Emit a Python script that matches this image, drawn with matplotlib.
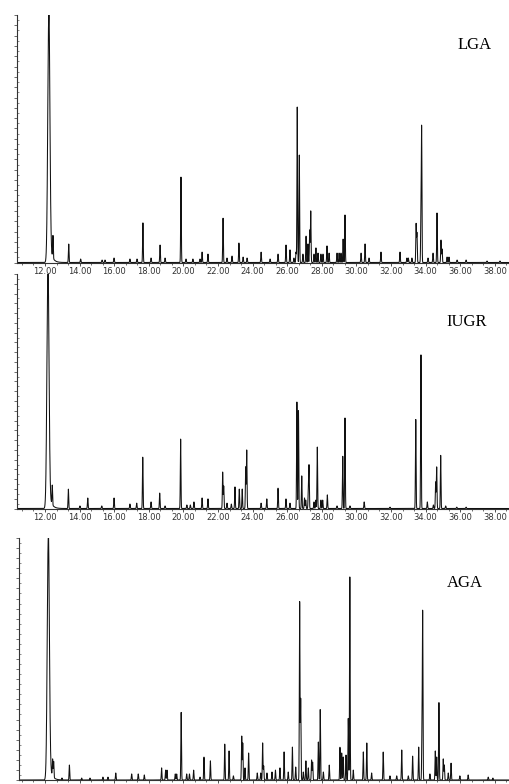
import numpy as np
import matplotlib.pyplot as plt
from matplotlib.ticker import MultipleLocator, FormatStrFormatter

# retention time (min) and peak height (% of panel height)
lga_t = [12.22, 12.46, 13.37, 14.06, 15.30, 15.47, 15.99, 16.91, 17.32, 17.66,
         18.13, 18.65, 18.94, 19.86, 20.15, 20.55, 20.96, 21.08, 21.42, 22.29,
         22.52, 22.81, 23.21, 23.45, 23.68, 24.49, 25.01, 25.47, 25.93, 26.16,
         26.39, 26.51, 26.58, 26.70, 26.91, 27.09, 27.20, 27.30, 27.36, 27.55,
         27.66, 27.78, 27.95, 28.07, 28.30, 28.42, 28.88, 29.00, 29.11, 29.23,
         29.34, 30.27, 30.50, 30.73, 31.42, 32.52, 32.92, 33.00, 33.21, 33.45,
         33.50, 33.73, 33.77, 34.14, 34.43, 34.66, 34.89, 34.95, 35.24, 35.35,
         35.82, 36.34, 37.55, 38.30]
lga_h = [100, 9.1, 7.5, 1.4, 1.0, 1.0, 1.8, 1.4, 1.4, 16.0,
         1.8, 7.1, 1.8, 34.5, 1.4, 1.4, 1.4, 4.2, 3.4, 18.0,
         1.8, 2.6, 7.9, 2.2, 1.8, 4.2, 1.4, 3.4, 7.1, 5.1,
         1.8, 4.2, 62.8, 43.4, 3.4, 10.7, 7.5, 13.1, 20.8, 3.4,
         5.9, 3.8, 3.4, 3.4, 6.7, 3.8, 3.8, 3.8, 3.8, 9.5,
         19.2, 3.8, 7.5, 1.8, 4.2, 4.2, 1.8, 1.8, 1.8, 15.6,
         11.9, 18.0, 53.9, 1.8, 3.8, 20.0, 9.1, 5.5, 2.2, 2.2,
         1.0, 1.0, 0.6, 0.6]

iugr_t = [12.17, 12.42, 13.35, 14.02, 14.47, 15.28, 15.99, 16.91, 17.30, 17.65,
          18.13, 18.63, 18.94, 19.84, 20.20, 20.40, 20.61, 21.08, 21.42, 22.27,
          22.33, 22.52, 22.77, 22.98, 23.23, 23.40, 23.60, 23.66, 24.49, 24.82,
          25.47, 25.93, 26.16, 26.56, 26.65, 26.84, 27.00, 27.07, 27.22, 27.26,
          27.55, 27.65, 27.74, 27.95, 28.05, 28.32, 28.88, 29.21, 29.34, 29.63,
          30.45, 31.94, 33.43, 33.73, 34.10, 34.45, 34.58, 34.64, 34.87, 35.16,
          35.80, 36.34]
iugr_h = [100, 8.3, 8.3, 1.1, 4.5, 1.1, 4.5, 1.9, 2.3, 22.0,
          2.8, 6.6, 1.1, 29.6, 1.5, 1.5, 2.8, 4.5, 4.1, 15.6,
          9.6, 2.3, 1.9, 9.2, 8.3, 8.3, 17.7, 24.9, 2.3, 4.1,
          8.7, 4.1, 2.3, 45.4, 42.0, 13.9, 4.5, 3.6, 7.0, 18.1,
          2.8, 3.6, 26.2, 3.6, 3.6, 5.8, 1.1, 22.4, 38.6, 1.1,
          2.8, 0.6, 38.2, 65.9, 2.8, 1.5, 11.3, 17.7, 22.8, 1.1,
          0.6, 0.6]

aga_t = [12.19, 12.44, 12.50, 12.98, 13.41, 14.12, 14.60, 15.35, 15.64, 16.09,
         17.01, 17.39, 17.74, 18.74, 18.97, 19.05, 19.53, 19.61, 19.87, 20.19,
         20.35, 20.59, 20.96, 21.19, 21.56, 22.39, 22.64, 22.89, 23.37, 23.43,
         23.56, 23.77, 24.27, 24.47, 24.58, 24.64, 24.83, 25.12, 25.32, 25.58,
         25.82, 26.06, 26.30, 26.49, 26.72, 26.78, 26.93, 27.08, 27.22, 27.41,
         27.47, 27.80, 27.91, 28.09, 28.43, 29.05, 29.15, 29.24, 29.40, 29.53,
         29.62, 29.82, 30.40, 30.60, 30.88, 31.55, 31.94, 32.33, 32.62, 33.00,
         33.25, 33.60, 33.79, 33.83, 34.25, 34.56, 34.64, 34.77, 35.02, 35.08,
         35.31, 35.47, 35.98, 36.46, 37.62, 37.89]
aga_h = [100, 7.0, 6.6, 0.8, 6.2, 0.8, 0.8, 1.2, 1.2, 2.9,
         2.5, 2.5, 2.1, 5.0, 4.1, 4.1, 2.5, 2.5, 28.1, 2.5,
         2.5, 4.1, 1.2, 9.5, 7.9, 14.9, 12.0, 1.7, 18.2, 15.3,
         5.0, 11.2, 2.9, 2.9, 15.3, 5.8, 2.9, 3.3, 4.1, 5.0,
         11.6, 3.3, 13.6, 5.4, 73.6, 33.5, 3.3, 7.9, 5.0, 8.3,
         7.4, 15.7, 29.3, 3.3, 6.2, 13.6, 11.2, 9.5, 10.3, 25.6,
         83.9, 4.1, 11.6, 15.3, 2.9, 11.6, 1.7, 1.7, 12.4, 1.7,
         9.9, 13.6, 18.6, 68.6, 2.5, 12.0, 9.5, 32.2, 8.7, 6.2,
         2.9, 7.0, 1.7, 2.1, 1.2, 0.8]

names = ["LGA", "IUGR", "AGA"]
tick_min = [12, 14, 16, 18, 20, 22, 24, 26, 28, 30, 32, 34, 36, 38]

W, H = 510, 784
px_per_min = 17.3


def px_to_min(x):
    return 12 + (x - 45) / px_per_min


def trace(t, times, heights):
    y = np.zeros_like(t)
    for i, (t0, h) in enumerate(zip(times, heights)):
        if i == 0:
            # solvent peak, broader with a tail
            s = 0.06
            y += h * np.exp(-0.5 * ((t - t0) / s) ** 2)
            d = t - t0
            tail = np.where(d > 0, 10 * np.exp(-d / 0.14) * (1 - np.exp(-d / 0.03)), 0)
            y += tail
        else:
            y += h * np.exp(-0.5 * ((t - t0) / 0.018) ** 2)
    return y


t = np.arange(10.3, 39.0, 0.004)

fig = plt.figure(figsize=(W / 100, H / 100), dpi=100)

# (left px, top px, bottom px)
boxes = [(17, 15, 262.5), (17, 274, 508.5), (19, 538, 780)]
data = [(lga_t, lga_h), (iugr_t, iugr_h), (aga_t, aga_h)]

for k, ((lx, ty, by), (pt, ph)) in enumerate(zip(boxes, data)):
    ax = fig.add_axes([lx / W, 1 - by / H, 1 - lx / W, (by - ty) / H])
    y = trace(t, pt, ph)
    ax.plot(t, y, color="#111111", lw=0.75)
    ax.set_xlim(px_to_min(lx), px_to_min(W))
    ax.set_ylim(0, 100)
    for s in ["top", "right"]:
        ax.spines[s].set_visible(False)
    for s in ["left", "bottom"]:
        ax.spines[s].set_linewidth(0.8)
        ax.spines[s].set_color("#333333")
    ax.set_xticks(tick_min)
    ax.xaxis.set_major_formatter(FormatStrFormatter("%.2f"))
    ax.xaxis.set_minor_locator(MultipleLocator(2 / 3))
    ax.tick_params(axis="x", which="major", length=2.5, width=0.6, pad=1,
                   labelsize=6, colors="#333333")
    ax.tick_params(axis="x", which="minor", length=1.5, width=0.5, colors="#333333")
    if k == 2:
        # labels of the last panel fall below the picture edge
        ax.tick_params(axis="x", labelbottom=False)
    ax.yaxis.set_major_locator(MultipleLocator(100 / 24))
    ax.yaxis.set_minor_locator(MultipleLocator(100 / 48))
    ax.tick_params(axis="y", which="major", direction="out", length=2, width=0.5,
                   labelleft=False, colors="#333333")
    ax.tick_params(axis="y", which="minor", direction="in", length=1.2, width=0.4,
                   colors="#333333")

fig.text(475 / W, 1 - 45 / H, "LGA", family="Liberation Serif", fontsize=12,
         ha="center", va="center")
fig.text(467 / W, 1 - 322 / H, "IUGR", family="Liberation Serif", fontsize=12,
         ha="center", va="center")
fig.text(465 / W, 1 - 583 / H, "AGA", family="Liberation Serif", fontsize=12,
         ha="center", va="center")

fig.savefig("out.png", dpi=100)
